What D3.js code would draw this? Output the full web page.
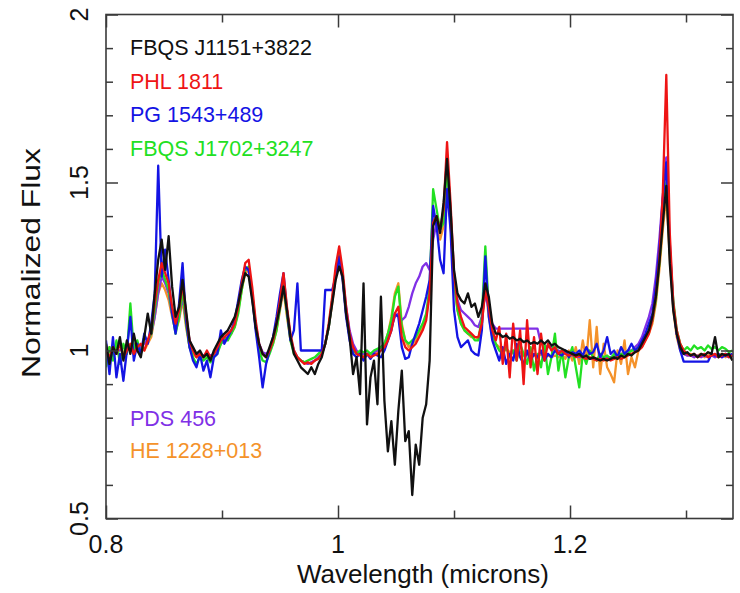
<!DOCTYPE html>
<html>
<head>
<meta charset="utf-8">
<script src="https://cdn.jsdelivr.net/npm/d3@7"></script>
<style>
  body { margin: 0; background: #fff; }
  text { font-family: "Liberation Sans", Arial, Helvetica, sans-serif; }
</style>
</head>
<body>
<svg id="chart" width="740" height="593"></svg>
<script>
// Wavelength sampling (microns), shared by all spectra
const wavelength = [
  0.800,0.803,0.806,0.809,0.812,0.815,0.818,0.821,0.824,0.827,
  0.830,0.833,0.836,0.839,0.842,0.845,0.848,0.851,0.854,0.857,
  0.860,0.863,0.866,0.869,0.872,0.875,0.878,0.881,0.884,0.887,
  0.890,0.893,0.896,0.899,0.902,0.905,0.908,0.911,0.914,0.917,
  0.920,0.923,0.926,0.929,0.932,0.935,0.938,0.941,0.944,0.947,
  0.950,0.953,0.956,0.959,0.962,0.965,0.968,0.971,0.974,0.977,
  0.980,0.983,0.986,0.989,0.992,0.995,0.998,1.001,1.004,1.007,
  1.010,1.013,1.016,1.019,1.022,1.025,1.028,1.031,1.034,1.037,
  1.040,1.043,1.046,1.049,1.052,1.055,1.058,1.061,1.064,1.067,
  1.070,1.073,1.076,1.079,1.082,1.085,1.088,1.091,1.094,1.097,
  1.100,1.103,1.106,1.109,1.112,1.115,1.118,1.121,1.124,1.127,
  1.130,1.133,1.136,1.139,1.142,1.145,1.148,1.151,1.154,1.157,
  1.160,1.163,1.166,1.169,1.172,1.175,1.178,1.181,1.184,1.187,
  1.190,1.193,1.196,1.199,1.202,1.205,1.208,1.211,1.214,1.217,
  1.220,1.223,1.226,1.229,1.232,1.235,1.238,1.241,1.244,1.247,
  1.250,1.253,1.256,1.259,1.262,1.265,1.268,1.271,1.274,1.277,
  1.280,1.283,1.286,1.289,1.292,1.295,1.298,1.301,1.304,1.307,
  1.310,1.313,1.316,1.319,1.322,1.325,1.328,1.331,1.334,1.337,
  1.340
];

// Normalized flux of each quasar
const fluxFBQS1151 = [
  1.02,0.96,1.01,0.99,1.04,0.97,1.03,0.99,1.05,1.00,
  0.98,1.04,1.11,1.05,1.17,1.27,1.33,1.24,1.34,1.19,
  1.10,1.13,1.21,1.12,1.03,1.01,0.99,1.00,0.98,0.99,
  0.97,1.00,1.02,1.04,1.05,1.06,1.08,1.10,1.14,1.19,
  1.23,1.22,1.15,1.07,1.02,0.99,0.98,1.01,1.04,1.08,
  1.13,1.19,1.12,1.04,0.99,0.97,0.95,0.94,0.93,0.95,
  0.93,0.96,0.98,1.02,1.07,1.14,1.21,1.25,1.22,1.11,
  1.04,0.93,0.98,0.87,1.20,0.78,0.92,0.97,0.84,1.16,
  0.85,0.70,0.79,0.66,0.82,0.94,0.73,0.76,0.57,0.72,
  0.66,0.80,0.84,0.97,1.37,1.40,1.35,1.44,1.57,1.42,
  1.24,1.17,1.15,1.14,1.17,1.13,1.14,1.10,1.13,1.20,
  1.16,1.08,1.05,1.05,1.04,1.045,1.035,1.04,1.03,1.035,
  1.025,1.03,1.02,1.025,1.02,1.03,1.02,1.03,1.015,1.02,
  1.01,1.005,1.00,0.995,0.99,0.985,0.99,0.98,0.985,0.975,
  0.98,0.975,0.97,0.975,0.97,0.975,0.98,0.975,0.985,0.98,
  0.99,0.985,0.995,1.00,1.02,1.04,1.06,1.10,1.16,1.26,
  1.38,1.49,1.26,1.12,1.05,1.01,0.99,0.995,0.985,0.99,
  0.98,0.99,0.985,0.995,0.99,1.04,0.98,0.99,0.985,0.99,
  0.97
];

const fluxPHL1811 = [
  1.00,0.98,1.01,0.99,1.02,0.98,1.00,1.02,0.99,1.01,
  1.02,1.00,1.03,1.06,1.14,1.21,1.26,1.23,1.20,1.13,
  1.08,1.12,1.20,1.11,1.03,1.00,0.98,0.99,0.98,1.00,
  0.98,0.99,1.01,1.03,1.04,1.05,1.06,1.08,1.13,1.20,
  1.26,1.27,1.19,1.09,1.02,0.99,0.98,1.00,1.03,1.08,
  1.15,1.23,1.13,1.05,1.00,0.98,0.97,0.96,0.965,0.96,
  0.97,0.975,0.99,1.02,1.08,1.16,1.25,1.31,1.24,1.13,
  1.05,1.01,0.99,0.985,0.98,0.99,0.98,0.985,0.99,1.00,
  1.01,1.03,1.06,1.11,1.13,1.04,1.01,1.00,1.01,1.02,
  1.04,1.06,1.09,1.17,1.38,1.40,1.36,1.42,1.62,1.44,
  1.23,1.14,1.10,1.07,1.06,1.05,1.04,1.04,1.08,1.18,
  1.13,1.06,1.03,1.07,0.96,1.05,0.92,1.08,0.97,1.06,
  0.90,1.09,0.95,1.04,0.93,1.05,0.97,1.02,1.00,1.01,
  0.99,1.00,0.99,0.985,0.99,0.98,0.985,0.98,0.975,0.98,
  0.975,0.97,0.975,0.97,0.975,0.97,0.975,0.98,0.975,0.98,
  0.985,0.99,0.995,1.00,1.01,1.03,1.05,1.09,1.16,1.27,
  1.47,1.82,1.35,1.14,1.06,1.02,1.00,0.99,0.985,0.99,
  0.98,0.985,0.99,0.98,0.985,0.99,0.98,0.985,0.99,0.98,
  0.985
];

const fluxPG1543 = [
  1.03,0.93,1.04,0.92,0.99,0.91,1.00,1.10,0.97,1.02,
  0.99,1.05,1.02,1.08,1.17,1.55,1.22,1.30,1.21,1.11,
  1.05,1.14,1.26,1.09,1.01,0.97,0.95,0.99,0.94,0.97,
  0.92,0.98,0.99,1.06,1.02,1.04,1.06,1.09,1.15,1.21,
  1.25,1.24,1.16,1.06,0.98,0.89,0.96,1.00,1.04,1.10,
  1.17,1.23,1.12,1.03,1.06,1.20,1.00,1.00,1.00,1.00,
  1.00,1.00,1.00,1.18,1.18,1.18,1.22,1.28,1.21,1.10,
  1.03,0.99,0.98,0.99,0.97,0.99,0.975,0.99,0.985,0.98,
  1.00,1.03,1.06,1.11,1.10,1.01,0.975,0.98,1.02,1.05,
  1.08,1.12,1.16,1.21,1.43,1.37,1.27,1.23,1.48,1.36,
  1.12,1.04,1.01,1.02,1.03,1.00,0.99,0.985,1.06,1.28,
  1.10,1.03,1.00,0.97,1.01,0.96,0.99,0.97,1.02,0.98,
  0.96,1.00,0.97,0.99,0.98,1.00,0.97,0.99,0.98,1.00,
  0.99,0.985,1.00,0.98,0.995,0.99,1.00,0.985,1.01,0.99,
  0.995,1.02,0.98,1.00,1.04,0.99,1.00,0.98,1.01,0.99,
  1.00,1.02,1.00,1.01,1.03,1.05,1.08,1.11,1.19,1.30,
  1.45,1.56,1.30,1.13,1.05,1.00,0.967,0.967,0.967,0.967,
  0.967,0.967,0.967,0.967,0.99,0.985,0.99,0.98,0.99,0.985,
  0.99
];

const fluxFBQS1702 = [
  0.95,1.01,0.97,1.03,0.96,1.02,0.99,1.14,1.00,1.03,
  0.99,1.04,1.03,1.05,1.12,1.20,1.24,1.21,1.18,1.11,
  1.05,1.10,1.18,1.08,1.01,0.98,0.96,0.98,0.97,0.98,
  0.965,0.98,0.99,1.02,1.04,1.03,1.05,1.07,1.11,1.18,
  1.24,1.25,1.17,1.07,1.00,0.97,0.965,0.99,1.02,1.06,
  1.13,1.20,1.11,1.03,0.99,0.98,0.97,0.965,0.97,0.975,
  0.98,0.99,1.00,1.02,1.07,1.15,1.23,1.29,1.22,1.11,
  1.04,1.00,0.99,1.00,0.995,1.00,0.99,1.00,1.005,1.01,
  1.02,1.05,1.09,1.16,1.19,1.07,1.03,1.02,1.03,1.04,
  1.06,1.08,1.11,1.19,1.48,1.42,1.36,1.38,1.55,1.40,
  1.21,1.12,1.08,1.06,1.05,1.045,1.03,1.03,1.10,1.31,
  1.12,1.05,1.02,1.00,0.99,1.01,0.98,1.00,0.97,1.02,
  0.99,0.96,1.01,0.94,0.99,0.95,1.02,0.93,0.98,1.05,
  0.94,1.00,0.92,0.98,1.01,0.95,0.89,0.99,0.96,1.00,
  0.98,0.97,0.99,0.98,0.985,0.975,0.99,0.98,0.99,0.985,
  0.99,1.00,1.00,1.01,1.02,1.04,1.06,1.09,1.15,1.26,
  1.40,1.50,1.30,1.15,1.06,1.02,1.00,1.01,1.00,1.015,
  1.005,1.01,1.00,1.015,1.005,1.01,1.00,1.01,1.005,0.995,
  1.00
];

const fluxPDS456 = [
  1.00,1.00,0.99,1.00,1.00,1.01,1.00,1.01,1.01,1.02,
  1.01,1.02,1.03,1.05,1.10,1.17,1.22,1.20,1.17,1.11,
  1.07,1.10,1.16,1.09,1.03,1.00,0.99,0.99,0.985,0.99,
  0.985,0.99,1.00,1.02,1.03,1.04,1.05,1.08,1.13,1.19,
  1.24,1.24,1.17,1.08,1.02,0.995,0.99,1.00,1.03,1.07,
  1.13,1.19,1.12,1.04,1.00,0.98,0.97,0.965,0.96,0.965,
  0.97,0.98,0.99,1.02,1.07,1.15,1.22,1.27,1.22,1.13,
  1.06,1.02,1.00,0.99,0.99,0.99,0.99,0.995,1.00,1.01,
  1.02,1.04,1.07,1.10,1.11,1.09,1.10,1.13,1.17,1.20,
  1.22,1.25,1.26,1.24,1.33,1.38,1.36,1.40,1.51,1.38,
  1.22,1.15,1.12,1.11,1.10,1.09,1.075,1.07,1.10,1.17,
  1.12,1.08,1.065,1.065,1.065,1.065,1.065,1.065,1.065,1.065,
  1.065,1.065,1.065,1.065,1.065,1.02,1.015,1.01,1.01,1.005,
  1.00,0.995,0.99,0.99,0.985,0.985,0.98,0.98,0.98,0.975,
  0.975,0.975,0.975,0.98,0.98,0.98,0.985,0.985,0.99,0.99,
  1.00,1.00,1.01,1.02,1.04,1.07,1.10,1.14,1.22,1.33,
  1.46,1.575,1.32,1.14,1.05,1.01,0.99,0.985,0.985,0.98,
  0.985,0.98,0.985,0.98,0.985,0.98,0.985,0.98,0.985,0.98,
  0.985
];

const fluxHE1228 = [
  0.99,1.01,0.98,1.00,1.02,0.99,1.01,1.00,1.02,1.00,
  1.01,1.00,1.02,1.04,1.10,1.17,1.20,1.18,1.15,1.10,
  1.06,1.09,1.15,1.07,1.01,0.99,0.98,0.99,0.98,0.99,
  0.98,0.99,1.00,1.02,1.03,1.04,1.05,1.07,1.12,1.18,
  1.23,1.24,1.16,1.07,1.01,0.99,0.98,1.00,1.02,1.06,
  1.12,1.18,1.10,1.03,1.00,0.98,0.97,0.965,0.96,0.965,
  0.97,0.98,0.99,1.02,1.07,1.14,1.22,1.27,1.21,1.11,
  1.04,1.01,0.99,0.99,0.985,0.99,0.985,0.99,1.00,1.01,
  1.02,1.05,1.10,1.17,1.20,1.08,1.03,1.01,1.02,1.03,
  1.05,1.07,1.10,1.17,1.39,1.38,1.33,1.37,1.53,1.38,
  1.20,1.12,1.08,1.06,1.05,1.04,1.04,1.035,1.08,1.19,
  1.10,1.04,1.02,1.01,1.00,1.005,0.995,1.00,0.99,0.995,
  0.985,0.99,0.98,0.985,0.98,0.99,0.98,0.985,0.98,0.985,
  0.98,0.99,0.975,1.00,0.97,1.01,0.96,1.03,0.97,1.09,
  0.95,1.07,0.93,1.02,0.95,0.93,0.905,1.00,0.96,1.03,
  0.93,0.98,0.95,1.00,1.01,1.03,1.05,1.08,1.14,1.24,
  1.36,1.46,1.28,1.12,1.04,1.00,0.99,0.985,0.99,0.98,
  0.985,0.99,0.98,0.985,0.99,0.98,0.985,0.99,0.98,0.985,
  0.99
];

// Axis tick values
const xMajorTicks = [0.8, 1.0, 1.2];
const xMinorTicks = [0.9, 1.1, 1.3];
const xTickLabels = ["0.8", "1", "1.2"];
const yMajorTicks = [0.5, 1.0, 1.5, 2.0];
const yMinorTicks = [0.6, 0.7, 0.8, 0.9, 1.1, 1.2, 1.3, 1.4, 1.6, 1.7, 1.8, 1.9];
const yTickLabels = ["0.5", "1", "1.5", "2"];

// Object names and colours (legend order)
const names = ["FBQS J1151+3822", "PHL 1811", "PG 1543+489", "FBQS J1702+3247", "PDS 456", "HE 1228+013"];
const colors = ["#111111", "#ee1414", "#1414e4", "#22e022", "#8030e6", "#f4922a"];
const fluxes = [fluxFBQS1151, fluxPHL1811, fluxPG1543, fluxFBQS1702, fluxPDS456, fluxHE1228];

const svg = d3.select("#chart");
svg.append("rect").attr("width", 740).attr("height", 593).attr("fill", "#fff");

const plotLeft = 106, plotRight = 733, plotTop = 14.5, plotBottom = 518.5;
const x = d3.scaleLinear().domain([0.8, 1.3405]).range([plotLeft, plotRight]);
const y = d3.scaleLinear().domain([0.5, 2.0]).range([plotBottom, plotTop]);

svg.append("defs").append("clipPath").attr("id", "plotClip")
  .append("rect").attr("x", plotLeft).attr("y", plotTop)
  .attr("width", plotRight - plotLeft).attr("height", plotBottom - plotTop);

// Spectra: drawn so that the first legend entry ends up on top
const line = d3.line()
  .x((d, i) => x(wavelength[i]))
  .y(d => y(d));

const drawOrder = [5, 4, 3, 2, 1, 0];
const plot = svg.append("g").attr("clip-path", "url(#plotClip)");
drawOrder.forEach(k => {
  plot.append("path")
    .datum(fluxes[k])
    .attr("fill", "none")
    .attr("stroke", colors[k])
    .attr("stroke-width", 2.3)
    .attr("stroke-linejoin", "round")
    .attr("d", line);
});

// Inward-pointing ticks on all four sides
const tickColor = "#3a3a3a";
function ticks(axisFn, scale, values, size, transform) {
  const g = svg.append("g").attr("transform", transform)
    .call(axisFn(scale).tickValues(values).tickSize(-size).tickSizeOuter(0).tickFormat(""));
  g.select(".domain").remove();
  g.selectAll("line").attr("stroke", tickColor).attr("stroke-width", 1.5);
}
ticks(d3.axisBottom, x, xMajorTicks, 13, `translate(0,${plotBottom})`);
ticks(d3.axisBottom, x, xMinorTicks, 8, `translate(0,${plotBottom})`);
ticks(d3.axisTop, x, xMajorTicks, 13, `translate(0,${plotTop})`);
ticks(d3.axisTop, x, xMinorTicks, 8, `translate(0,${plotTop})`);
ticks(d3.axisLeft, y, yMajorTicks, 12, `translate(${plotLeft},0)`);
ticks(d3.axisLeft, y, yMinorTicks, 7, `translate(${plotLeft},0)`);
ticks(d3.axisRight, y, yMajorTicks, 12, `translate(${plotRight},0)`);
ticks(d3.axisRight, y, yMinorTicks, 7, `translate(${plotRight},0)`);

// Frame
svg.append("rect")
  .attr("x", plotLeft).attr("y", plotTop)
  .attr("width", plotRight - plotLeft).attr("height", plotBottom - plotTop)
  .attr("fill", "none").attr("stroke", tickColor).attr("stroke-width", 1.6);

// Tick labels
svg.append("g").selectAll("text").data(xMajorTicks).join("text")
  .attr("x", d => x(d)).attr("y", 553)
  .attr("text-anchor", "middle").attr("font-size", 25).attr("fill", "#111")
  .text((d, i) => xTickLabels[i]);

svg.append("g").selectAll("text").data(yMajorTicks).join("text")
  .attr("transform", d => `translate(88,${y(d)}) rotate(-90)`)
  .attr("text-anchor", "middle").attr("font-size", 25).attr("fill", "#111")
  .text((d, i) => yTickLabels[i]);

// Axis titles
svg.append("text")
  .attr("x", 423).attr("y", 583)
  .attr("text-anchor", "middle").attr("font-size", 26).attr("fill", "#111")
  .text("Wavelength (microns)");

svg.append("text")
  .attr("transform", "translate(40,263) rotate(-90)")
  .attr("text-anchor", "middle").attr("font-size", 26).attr("fill", "#111")
  .attr("textLength", 230).attr("lengthAdjust", "spacingAndGlyphs")
  .text("Normalized Flux");

// Legend
const legendBaselines = [55, 88.5, 122, 155.5, 426, 458];
svg.append("g").selectAll("text").data(names).join("text")
  .attr("x", 130).attr("y", (d, i) => legendBaselines[i])
  .attr("font-size", 21.5).attr("fill", (d, i) => colors[i])
  .text(d => d);
</script>
</body>
</html>
